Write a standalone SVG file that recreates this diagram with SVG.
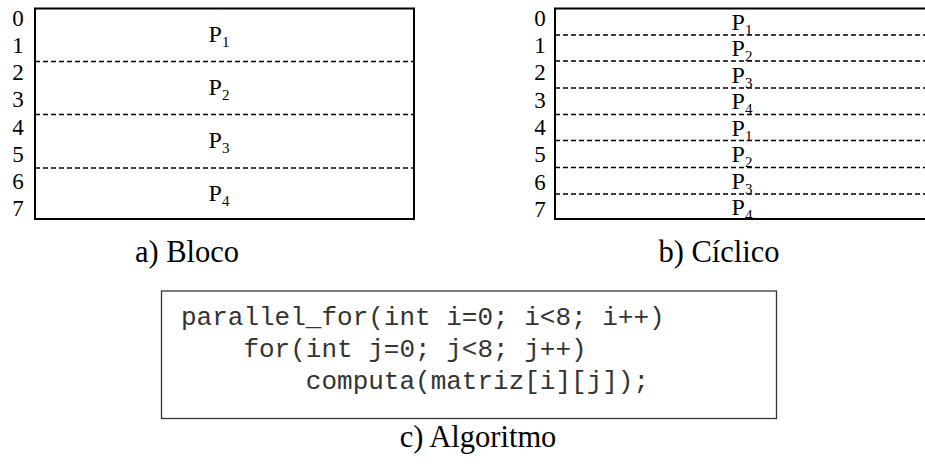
<svg xmlns="http://www.w3.org/2000/svg" width="925" height="468" viewBox="0 0 925 468">
  <style>
    .frame { fill: none; stroke: #000; stroke-width: 2; }
    .split { stroke: #000; stroke-width: 1.5; stroke-dasharray: 5 3; }
    .num { font-family: "Liberation Serif", "Times New Roman", serif; font-size: 23px; fill: #000; text-anchor: middle; }
    .proc { font-family: "Liberation Serif", "Times New Roman", serif; font-size: 24px; fill: #000; text-anchor: middle; }
    .sub { font-size: 15px; }
    .caption { font-family: "Liberation Serif", "Times New Roman", serif; font-size: 30.5px; fill: #000; text-anchor: middle; }
    .code { font-family: "Liberation Mono", "Courier New", monospace; font-size: 26px; fill: #333; white-space: pre; }
    .codebox { fill: none; stroke: #333; stroke-width: 1.3; }
  </style>

  <!-- a) block distribution: two rows per process -->
  <g id="bloco">
    <rect class="frame" x="35" y="8.5" width="379" height="210.5"/>
    <line class="split" x1="35" y1="61.5" x2="414" y2="61.5"/>
    <line class="split" x1="35" y1="114.5" x2="414" y2="114.5"/>
    <line class="split" x1="35" y1="168" x2="414" y2="168"/>
    <g class="num">
      <text x="18" y="26">0</text>
      <text x="18" y="53">1</text>
      <text x="18" y="80">2</text>
      <text x="18" y="107">3</text>
      <text x="18" y="134.5">4</text>
      <text x="18" y="161.5">5</text>
      <text x="18" y="188.5">6</text>
      <text x="18" y="216">7</text>
    </g>
    <g class="proc">
      <text x="219" y="42">P<tspan class="sub" dy="5">1</tspan></text>
      <text x="219" y="95">P<tspan class="sub" dy="5">2</tspan></text>
      <text x="219" y="148">P<tspan class="sub" dy="5">3</tspan></text>
      <text x="219" y="200.5">P<tspan class="sub" dy="5">4</tspan></text>
    </g>
    <text class="caption" x="187" y="261.5">a) Bloco</text>
  </g>

  <!-- b) cyclic distribution: one row per process, round robin -->
  <g id="ciclico">
    <path class="frame" d="M927 8.5 H555 V219 H927"/>
    <line class="split" x1="555" y1="35" x2="925" y2="35"/>
    <line class="split" x1="555" y1="61" x2="925" y2="61"/>
    <line class="split" x1="555" y1="88" x2="925" y2="88"/>
    <line class="split" x1="555" y1="114.5" x2="925" y2="114.5"/>
    <line class="split" x1="555" y1="140.5" x2="925" y2="140.5"/>
    <line class="split" x1="555" y1="167.5" x2="925" y2="167.5"/>
    <line class="split" x1="555" y1="194" x2="925" y2="194"/>
    <g class="num">
      <text x="540" y="25.5">0</text>
      <text x="540" y="53">1</text>
      <text x="540" y="80">2</text>
      <text x="540" y="107.5">3</text>
      <text x="540" y="135">4</text>
      <text x="540" y="162">5</text>
      <text x="540" y="189.5">6</text>
      <text x="540" y="217">7</text>
    </g>
    <g class="proc">
      <text x="742" y="29.5">P<tspan class="sub" dy="5">1</tspan></text>
      <text x="742" y="56">P<tspan class="sub" dy="5">2</tspan></text>
      <text x="742" y="82.5">P<tspan class="sub" dy="5">3</tspan></text>
      <text x="742" y="109">P<tspan class="sub" dy="5">4</tspan></text>
      <text x="742" y="135.5">P<tspan class="sub" dy="5">1</tspan></text>
      <text x="742" y="162">P<tspan class="sub" dy="5">2</tspan></text>
      <text x="742" y="188.5">P<tspan class="sub" dy="5">3</tspan></text>
      <text x="742" y="215">P<tspan class="sub" dy="5">4</tspan></text>
    </g>
    <text class="caption" x="719" y="261.5">b) Cíclico</text>
  </g>

  <!-- c) loop nest -->
  <g id="algoritmo">
    <rect class="codebox" x="161.5" y="291" width="615" height="127.5"/>
    <text class="code" x="181" y="325">parallel_for(int i=0; i&lt;8; i++)</text>
    <text class="code" x="181" y="357">    for(int j=0; j&lt;8; j++)</text>
    <text class="code" x="181" y="389">        computa(matriz[i][j]);</text>
    <text class="caption" x="478" y="447">c) Algoritmo</text>
  </g>
</svg>
